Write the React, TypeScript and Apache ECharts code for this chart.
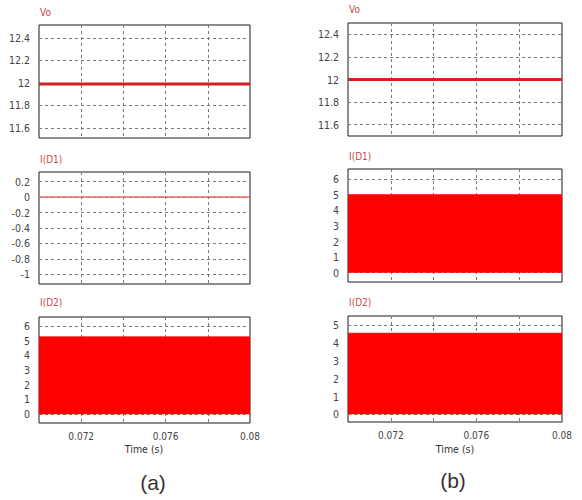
import React, { useEffect, useRef } from "react";
import * as echarts from "echarts";

// Time window (s)
const timeSpan = [0.07, 0.08];
const gridTimes = [0.072, 0.074, 0.076, 0.078];
const timeLabels = [0.072, 0.076, 0.08];

// (a) waveforms
const voA = [11.99, 11.99];
const iD1A = [0, 0];
const iD2APeak = [5.25, 5.25];

// (b) waveforms
const voB = [12.0, 12.0];
const iD1BPeak = [5.0, 5.0];
const iD2BPeak = [4.55, 4.55];

// y tick labels
const voTicks = [11.6, 11.8, 12, 12.2, 12.4];
const iD1ATicks = [-1, -0.8, -0.6, -0.4, -0.2, 0, 0.2];
const amp6Ticks = [0, 1, 2, 3, 4, 5, 6];
const amp5Ticks = [0, 1, 2, 3, 4, 5];

const panelTitles = ["Vo", "I(D1)", "I(D2)"];
const xName = "Time (s)";
const captions = ["(a)", "(b)"];

const FONT = '"Liberation Sans Narrow", "DejaVu Sans Condensed", "Arial Narrow", sans-serif';
const RED = "#ff0000";

function pts(ys: number[]) {
  return ys.map((y, i) => [timeSpan[i], y]);
}

export default function App() {
  const ref = useRef<HTMLDivElement>(null);
  useEffect(() => {
    if (!ref.current) return;
    const chart = echarts.init(ref.current, null, { renderer: "svg" });

    const layouts = [
      { left: 39, top: 25, width: 211, height: 113, min: 11.51, max: 12.515, ticks: voTicks, bottom: false },
      { left: 39, top: 172, width: 211, height: 112, min: -1.125, max: 0.325, ticks: iD1ATicks, bottom: false },
      { left: 39, top: 317, width: 211, height: 106, min: -0.6, max: 6.6, ticks: amp6Ticks, bottom: true },
      { left: 348, top: 23, width: 214, height: 113, min: 11.5, max: 12.5, ticks: voTicks, bottom: false },
      { left: 348, top: 169, width: 214, height: 113, min: -0.6, max: 6.66, ticks: amp6Ticks, bottom: false },
      { left: 348, top: 316, width: 214, height: 106, min: -0.43, max: 5.52, ticks: amp5Ticks, bottom: true },
    ];

    const dashed = { show: true, lineStyle: { color: "#7a7a7a", width: 1, type: [3, 3] as any } };

    const grid = layouts.map((l) => ({
      left: l.left, top: l.top, width: l.width, height: l.height,
      show: true, borderColor: "#1a1a1a", borderWidth: 1, backgroundColor: "#fff",
    }));

    const xAxis = layouts.map((l, i) => ({
      type: "value", gridIndex: i, min: timeSpan[0], max: timeSpan[1],
      axisLine: { show: false },
      axisTick: { show: false, customValues: gridTimes },
      splitLine: dashed,
      axisLabel: {
        show: l.bottom, customValues: timeLabels, margin: 8,
        color: "#444", fontSize: 10, fontFamily: FONT,
        formatter: (v: number) => String(+v.toFixed(3)),
      },
    }));

    const yAxis = layouts.map((l, i) => ({
      type: "value", gridIndex: i, min: l.min, max: l.max,
      axisLine: { show: false },
      axisTick: { show: false, customValues: l.ticks },
      splitLine: dashed,
      axisLabel: {
        customValues: l.ticks, margin: 9,
        color: "#444", fontSize: 10.5, fontFamily: FONT,
        formatter: (v: number) => String(+v.toFixed(2)),
      },
    }));

    const lineS = (idx: number, data: number[], color: string, width: number) => ({
      type: "line", xAxisIndex: idx, yAxisIndex: idx, data: pts(data),
      symbol: "none", lineStyle: { color, width }, silent: true,
    });
    const areaS = (idx: number, data: number[]) => ({
      type: "line", xAxisIndex: idx, yAxisIndex: idx, data: pts(data),
      symbol: "none", lineStyle: { color: RED, width: 1 },
      areaStyle: { color: RED, opacity: 1, origin: 0 }, silent: true,
    });

    const series = [
      lineS(0, voA, "#d42020", 3),
      lineS(1, iD1A, "#e06a6a", 1.5),
      areaS(2, iD2APeak),
      lineS(3, voB, "#d42020", 3),
      areaS(4, iD1BPeak),
      areaS(5, iD2BPeak),
    ];

    const titleStyle = { fill: "#c84848", fontSize: 10, fontFamily: FONT };
    const titlePos = [
      [40, 13], [40, 160], [40, 303],
      [349, 10], [349, 157], [349, 303],
    ];
    const graphic: any[] = titlePos.map((p, i) => ({
      type: "text", left: p[0], top: p[1] - 6,
      style: { ...titleStyle, text: panelTitles[i % 3] },
    }));
    graphic.push(
      { type: "text", x: 144, y: 449, style: { text: xName, fill: "#333", fontSize: 10.5, fontFamily: FONT, align: "center", verticalAlign: "middle" } },
      { type: "text", x: 455, y: 449, style: { text: xName, fill: "#333", fontSize: 10.5, fontFamily: FONT, align: "center", verticalAlign: "middle" } },
      { type: "text", x: 153, y: 482, style: { text: captions[0], fill: "#333", fontSize: 21, fontFamily: "Liberation Sans, Arial, sans-serif", align: "center", verticalAlign: "middle" } },
      { type: "text", x: 453, y: 480, style: { text: captions[1], fill: "#333", fontSize: 21, fontFamily: "Liberation Sans, Arial, sans-serif", align: "center", verticalAlign: "middle" } },
    );

    chart.setOption({
      animation: false,
      backgroundColor: "#fff",
      grid, xAxis, yAxis, series, graphic,
    } as any);
    return () => chart.dispose();
  }, []);
  return <div ref={ref} style={{ position: "fixed", left: 0, top: 0, width: 582, height: 500 }} />;
}
